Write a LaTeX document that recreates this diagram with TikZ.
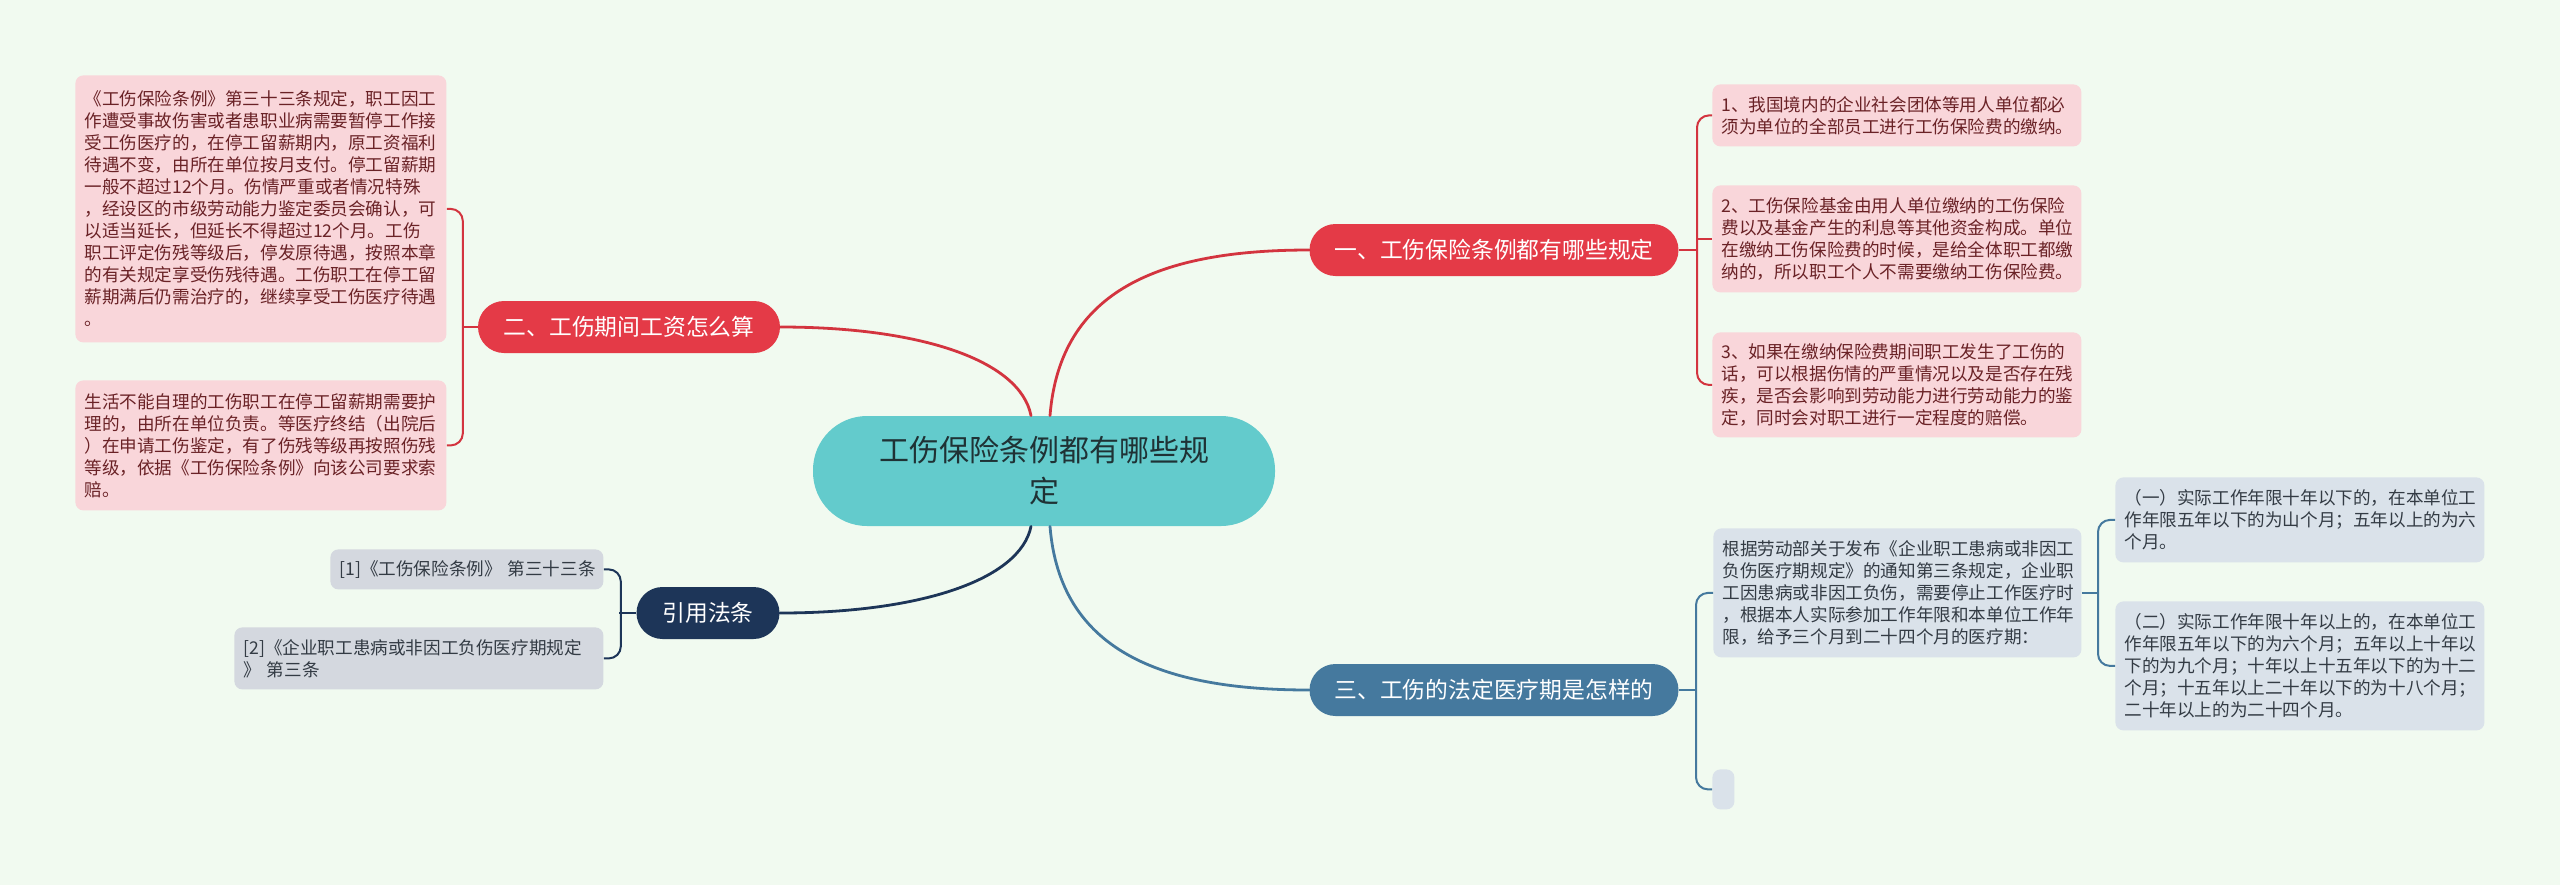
\documentclass[tikz,border=0pt]{standalone}
\usepackage{fontspec}
\setmainfont{Noto Sans CJK SC}
\usetikzlibrary{positioning}

\definecolor{bgmint}{HTML}{F1FAF0}
\definecolor{rootteal}{HTML}{63CBCC}
\definecolor{roottext}{HTML}{1F3235}
\definecolor{redmain}{HTML}{E43A47}
\definecolor{redline}{HTML}{D3343F}
\definecolor{pinkfill}{HTML}{F9D6DA}
\definecolor{pinktext}{HTML}{6A2226}
\definecolor{bluemain}{HTML}{45799E}
\definecolor{bluefill}{HTML}{DAE2EA}
\definecolor{navymain}{HTML}{1D3558}
\definecolor{greyfill}{HTML}{D4D8DF}
\definecolor{leaftext}{HTML}{333B44}

\newcommand{\leaffont}{\fontsize{8.8pt}{11pt}\selectfont}

\begin{document}
\begin{tikzpicture}[
    x=0.5pt, y=-0.5pt,
    % Nodo central y ramas principales con extremos redondeados
    rootnode/.style={
        rectangle,
        fill=rootteal,
        rounded corners=27pt,
        minimum width=231pt,
        minimum height=55pt,
        align=center,
        text=roottext,
        font=\fontsize{15pt}{20.5pt}\selectfont
    },
    branch/.style={
        rectangle,
        rounded corners=13pt,
        minimum height=26pt,
        inner xsep=0pt,
        text=white,
        font=\fontsize{11.4pt}{13pt}\selectfont
    },
    leafbox/.style={
        rectangle,
        rounded corners=4pt,
        anchor=north west,
        inner xsep=4.5pt,
        inner ysep=3pt,
        align=left,
        font=\leaffont
    },
    pinkleaf/.style={leafbox, fill=pinkfill, text=pinktext},
    blueleaf/.style={leafbox, fill=bluefill, text=leaftext},
    greyleaf/.style={leafbox, fill=greyfill, text=leaftext},
    arc/.style={line width=1.4pt, line cap=round},
    tie/.style={line width=1pt, rounded corners=6pt}
]

    % --- FONDO ---
    \fill[bgmint] (0,0) rectangle (2560,885);
    \useasboundingbox (0,0) rectangle (2560,885);

    % --- NODO CENTRAL ---
    \node[rootnode] (root) at (1044,471) {工伤保险条例都有哪些规\\定};

    % --- RAMAS PRINCIPALES ---
    \node[branch, fill=redmain, minimum width=184.5pt] (one) at (1494,250) {一、工伤保险条例都有哪些规定};
    \node[branch, fill=redmain, minimum width=151pt] (two) at (629,327) {二、工伤期间工资怎么算};
    \node[branch, fill=bluemain, minimum width=184.5pt] (three) at (1494,690) {三、工伤的法定医疗期是怎样的};
    \node[branch, fill=navymain, minimum width=71.5pt] (cite) at (708,613) {引用法条};

    % --- HOJAS: RAMA UNO ---
    \node[pinkleaf, text width=175.5pt, minimum height=31pt] (one1) at (1712,84)
        {1、我国境内的企业社会团体等用人单位都必\\须为单位的全部员工进行工伤保险费的缴纳。};
    \node[pinkleaf, text width=175.5pt, minimum height=53.5pt] (one2) at (1712,185)
        {2、工伤保险基金由用人单位缴纳的工伤保险\\费以及基金产生的利息等其他资金构成。单位\\在缴纳工伤保险费的时候，是给全体职工都缴\\纳的，所以职工个人不需要缴纳工伤保险费。};
    \node[pinkleaf, text width=175.5pt, minimum height=52.5pt] (one3) at (1712,332)
        {3、如果在缴纳保险费期间职工发生了工伤的\\话，可以根据伤情的严重情况以及是否存在残\\疾，是否会影响到劳动能力进行劳动能力的鉴\\定，同时会对职工进行一定程度的赔偿。};

    % --- HOJAS: RAMA DOS ---
    \node[pinkleaf, text width=176.5pt, minimum height=133.5pt] (two1) at (75,75)
        {《工伤保险条例》第三十三条规定，职工因工\\作遭受事故伤害或者患职业病需要暂停工作接\\受工伤医疗的，在停工留薪期内，原工资福利\\待遇不变，由所在单位按月支付。停工留薪期\\一般不超过12个月。伤情严重或者情况特殊\\，经设区的市级劳动能力鉴定委员会确认，可\\以适当延长，但延长不得超过12个月。工伤\\职工评定伤残等级后，停发原待遇，按照本章\\的有关规定享受伤残待遇。工伤职工在停工留\\薪期满后仍需治疗的，继续享受工伤医疗待遇\\。};
    \node[pinkleaf, text width=176.5pt, minimum height=65pt] (two2) at (75,380)
        {生活不能自理的工伤职工在停工留薪期需要护\\理的，由所在单位负责。等医疗终结（出院后\\）在申请工伤鉴定，有了伤残等级再按照伤残\\等级，依据《工伤保险条例》向该公司要求索\\赔。};

    % --- HOJAS: RAMA TRES ---
    \node[blueleaf, text width=175pt, minimum height=64.5pt] (three1) at (1713,528)
        {根据劳动部关于发布《企业职工患病或非因工\\负伤医疗期规定》的通知第三条规定，企业职\\工因患病或非因工负伤，需要停止工作医疗时\\，根据本人实际参加工作年限和本单位工作年\\限，给予三个月到二十四个月的医疗期：};
    \node[blueleaf, minimum width=11pt, minimum height=20pt, inner sep=0pt] (three2) at (1712,769) {};
    \node[blueleaf, text width=175.5pt, minimum height=42.5pt] (sub1) at (2115,477)
        {（一）实际工作年限十年以下的，在本单位工\\作年限五年以下的为山个月；五年以上的为六\\个月。};
    \node[blueleaf, text width=175.5pt, minimum height=64.5pt] (sub2) at (2115,601)
        {（二）实际工作年限十年以上的，在本单位工\\作年限五年以下的为六个月；五年以上十年以\\下的为九个月；十年以上十五年以下的为十二\\个月；十五年以上二十年以下的为十八个月；\\二十年以上的为二十四个月。};

    % --- HOJAS: REFERENCIAS ---
    \node[greyleaf, text width=127.5pt, minimum height=20pt] (ref1) at (330,549)
        {[1]《工伤保险条例》~第三十三条};
    \node[greyleaf, text width=175.5pt, minimum height=31pt] (ref2) at (234,627)
        {[2]《企业职工患病或非因工负伤医疗期规定\\》 第三条};

    % --- CONEXIONES DESDE EL CENTRO ---
    \draw[arc, redline] ([xshift=3pt]root.north) .. controls (1060,290) and (1160,250) .. (one.west);
    \draw[arc, redline] ([xshift=-6.5pt]root.north) .. controls (1020,360) and (920,327) .. (two.east);
    \draw[arc, navymain] ([xshift=-6.5pt]root.south) .. controls (1020,580) and (920,613) .. (cite.east);
    \draw[arc, bluemain] ([xshift=3pt]root.south) .. controls (1060,650) and (1160,690) .. (three.west);

    % --- CORCHETES HACIA LAS HOJAS ---
    \draw[tie, redline] (one1.west) -- ++(-15,0) |- (one3.west);
    \draw[tie, redline] (one2.west) -- ++(-15,0);
    \draw[tie, redline] (one.east) -- ++(18,0);

    \draw[tie, redline] (two1.east) -- ++(16,0) |- (two2.east);
    \draw[tie, redline] (two.west) -- ++(-16,0);

    \draw[tie, bluemain] (three1.west) -- ++(-17,0) |- (three2.west);
    \draw[tie, bluemain] (three.east) -- ++(18,0);

    \draw[tie, bluemain] (sub1.west) -- ++(-17,0) |- (sub2.west);
    \draw[tie, bluemain] (three1.east) -- ++(17,0);

    \draw[tie, navymain] (ref1.east) -- ++(17,0) |- (ref2.east);
    \draw[tie, navymain] (cite.west) -- ++(-17,0);

\end{tikzpicture}
\end{document}
